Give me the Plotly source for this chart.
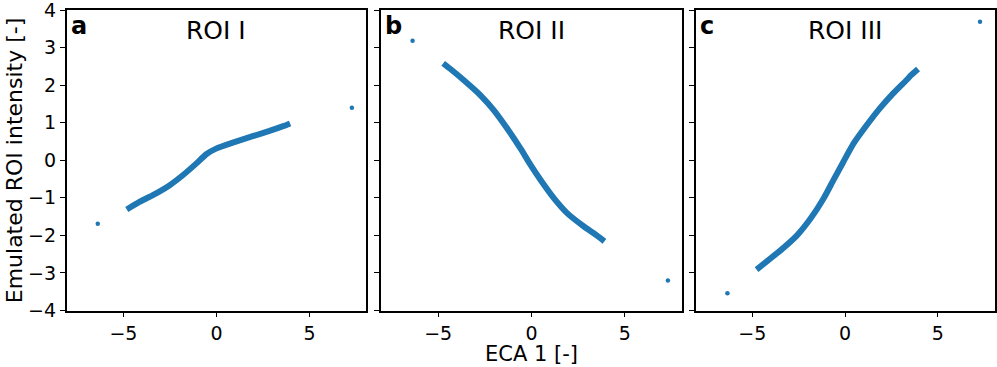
import plotly.graph_objects as go

# ---- data ----
roi_names = ["ROI I", "ROI II", "ROI III"]
panel_letters = ["a", "b", "c"]

roi1_x = [-4.82, -4.14, -3.42, -2.53, -1.81, -1.09, -0.55, -0.02, 0.88, 1.95, 2.85, 3.66, 3.96]
roi1_y = [-1.31, -1.11, -0.93, -0.67, -0.40, -0.09, 0.16, 0.31, 0.47, 0.64, 0.78, 0.92, 0.98]
roi1_out_x = [-6.38, 7.28]
roi1_out_y = [-1.69, 1.40]

roi2_x = [-4.73, -4.34, -3.62, -2.73, -2.01, -1.29, -0.58, -0.04, 0.50, 1.22, 1.94, 2.83, 3.55, 3.91]
roi2_y = [2.58, 2.43, 2.13, 1.73, 1.33, 0.84, 0.31, -0.13, -0.53, -1.02, -1.42, -1.77, -2.02, -2.16]
roi2_out_x = [-6.37, 7.31]
roi2_out_y = [3.18, -3.20]

roi3_x = [-4.77, -4.37, -3.48, -2.59, -1.87, -1.16, -0.63, -0.09, 0.45, 1.16, 1.87, 2.59, 3.30, 3.57, 3.93]
roi3_y = [-2.91, -2.75, -2.40, -2.00, -1.56, -1.02, -0.53, -0.04, 0.44, 0.93, 1.38, 1.78, 2.13, 2.27, 2.43]
roi3_out_x = [-6.34, 7.27]
roi3_out_y = [-3.54, 3.69]

x_ticks = [-5, 0, 5]
y_ticks = [-4, -3, -2, -1, 0, 1, 2, 3, 4]
x_label = "ECA 1 [-]"
y_label = "Emulated ROI intensity [-]"

curves = [(roi1_x, roi1_y, roi1_out_x, roi1_out_y),
          (roi2_x, roi2_y, roi2_out_x, roi2_out_y),
          (roi3_x, roi3_y, roi3_out_x, roi3_out_y)]

# ---- layout ----
W, H = 997, 367
FONT = "DejaVu Sans"
BLUE = "#1f77b4"
x_domains = [(66.7 / W, 366.2 / W), (381.2 / W, 681.7 / W), (695.7 / W, 994.5 / W)]
y_domain = (1 - 310.5 / H, 1 - 10.0 / H)

fig = go.Figure()
for i, (cx, cy, ox, oy) in enumerate(curves):
    xa = "x" if i == 0 else f"x{i+1}"
    ya = "y" if i == 0 else f"y{i+1}"
    fig.add_trace(go.Scatter(x=cx, y=cy, mode="lines", xaxis=xa, yaxis=ya,
                             line=dict(color=BLUE, width=6, shape="spline", smoothing=0.5),
                             showlegend=False, hoverinfo="skip"))
    fig.add_trace(go.Scatter(x=ox, y=oy, mode="markers", xaxis=xa, yaxis=ya,
                             marker=dict(color=BLUE, size=4.5),
                             showlegend=False, hoverinfo="skip"))

axis_common = dict(showline=True, linecolor="black", linewidth=1.6, mirror=True,
                   ticks="outside", ticklen=5, tickwidth=1.3, tickcolor="black",
                   showgrid=False, zeroline=False, automargin=False,
                   ticklabeloverflow="allow",
                   tickfont=dict(family=FONT, size=19, color="black"))

layout = dict(width=W, height=H, margin=dict(l=0, r=0, t=0, b=0),
              plot_bgcolor="white", paper_bgcolor="white",
              font=dict(family=FONT, color="black"))
for i in range(3):
    xk = "xaxis" if i == 0 else f"xaxis{i+1}"
    yk = "yaxis" if i == 0 else f"yaxis{i+1}"
    ya = "y" if i == 0 else f"y{i+1}"
    xa = "x" if i == 0 else f"x{i+1}"
    layout[xk] = dict(axis_common, domain=list(x_domains[i]), range=[-8.05, 8.05],
                      tickvals=x_ticks, ticktext=[str(v).replace("-", "\u2212") for v in x_ticks],
                      anchor=ya)
    layout[yk] = dict(axis_common, domain=list(y_domain), range=[-4, 4],
                      tickvals=y_ticks,
                      ticktext=[str(v).replace("-", "\u2212") for v in y_ticks],
                      showticklabels=(i == 0), anchor=xa)
fig.update_layout(**layout)

for i in range(3):
    xr = ("x" if i == 0 else f"x{i+1}") + " domain"
    yr = ("y" if i == 0 else f"y{i+1}") + " domain"
    fig.add_annotation(text=roi_names[i], xref=xr, yref=yr, x=0.5, y=1, yshift=-4,
                       xanchor="center", yanchor="top", showarrow=False,
                       font=dict(family=FONT, size=25, color="black"))
    fig.add_annotation(text="<b>" + panel_letters[i] + "</b>", xref=xr, yref=yr, x=0, y=1,
                       xshift=2, yshift=0, xanchor="left", yanchor="top", showarrow=False,
                       font=dict(family=FONT, size=24, color="black"))

fig.add_annotation(text=x_label, xref="x2 domain", yref="paper", x=0.5, y=1 - 354 / H,
                   xanchor="center", yanchor="middle", showarrow=False,
                   font=dict(family=FONT, size=21, color="black"))
fig.add_annotation(text=y_label, xref="paper", yref="y domain", x=14 / W, y=0.5,
                   xanchor="center", yanchor="middle", textangle=-90, showarrow=False,
                   font=dict(family=FONT, size=22, color="black"))

fig.write_html("out.html")
